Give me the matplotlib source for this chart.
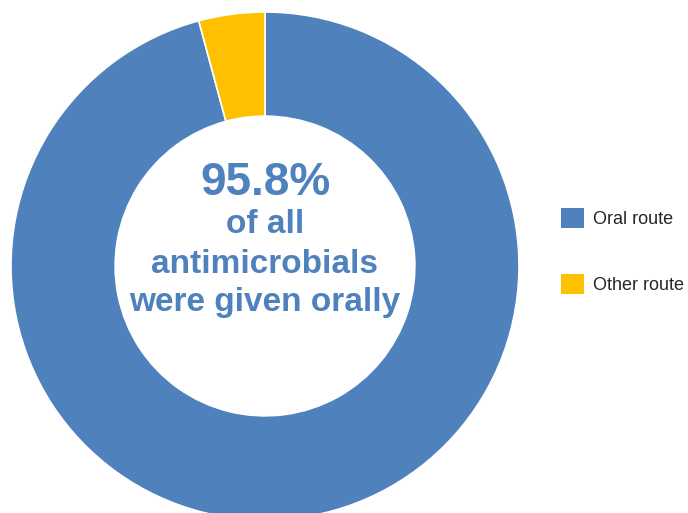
import matplotlib.pyplot as plt
from matplotlib.patches import Patch

# share of antimicrobials by route of administration
routes = ['Oral route', 'Other route']
shares = [95.8, 4.2]
colors = ['#4F81BD', '#FFC000']

plt.rcParams['font.family'] = ['Liberation Sans', 'DejaVu Sans']

fig = plt.figure(figsize=(6.88, 5.13), dpi=100)

# square axes so the ring stays round; centre sits left of the legend
ax = fig.add_axes([11 / 688, -7 / 513, 508 / 688, 508 / 513])
ax.pie(shares, colors=colors, startangle=90, counterclock=False, radius=1,
       wedgeprops=dict(width=0.41, edgecolor='white', linewidth=1.2))
ax.set_xlim(-1, 1)
ax.set_ylim(-1, 1)
ax.axis('off')

blue = colors[0]
ax.text(0, 0.28, '%.1f%%' % shares[0], ha='center', va='baseline',
        fontsize=33, fontweight='bold', color=blue)
lines = ['of all', 'antimicrobials', 'were given orally']
for y, s in zip([0.13, -0.028, -0.177], lines):
    ax.text(0, y, s, ha='center', va='baseline',
            fontsize=24, fontweight='bold', color=blue)

handles = [Patch(facecolor=c, edgecolor='none') for c in colors]
fig.legend(handles, routes, loc='center left',
           bbox_to_anchor=(561 / 688, 1 - 251 / 513), frameon=False,
           fontsize=13, handlelength=1.3, handleheight=1.35,
           handletextpad=0.45, labelspacing=2.5, borderpad=0,
           borderaxespad=0, labelcolor='#262626')

fig.savefig('out.png', dpi=100)
